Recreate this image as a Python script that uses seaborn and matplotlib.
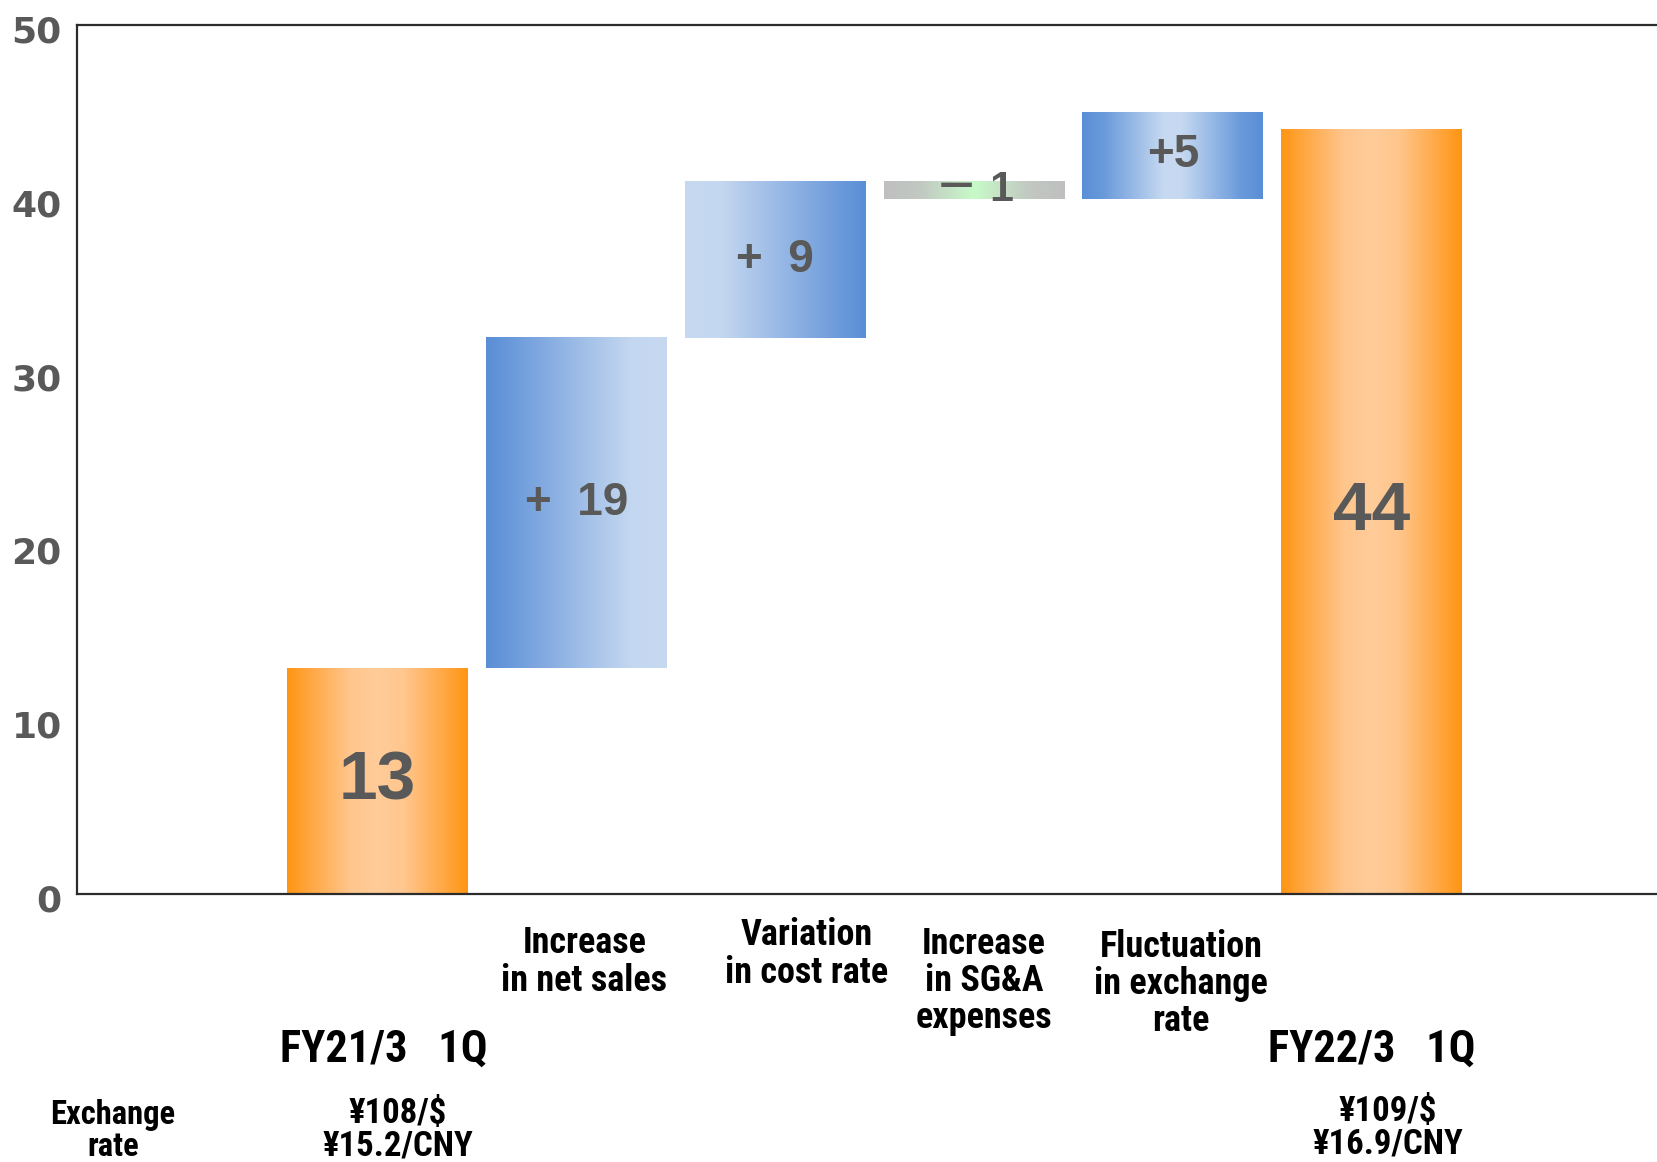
import numpy as np
import pandas as pd
import matplotlib
matplotlib.use("Agg")
import matplotlib.pyplot as plt
import matplotlib.transforms as mtransforms
from matplotlib import font_manager
from matplotlib.font_manager import FontProperties
from matplotlib.colors import LinearSegmentedColormap
import seaborn as sns

# ---- data -------------------------------------------------------------
categories = [
    "FY21/3   1Q",
    "Increase\nin net sales",
    "Variation\nin cost rate",
    "Increase\nin SG&A\nexpenses",
    "Fluctuation\nin exchange\nrate",
    "FY22/3   1Q",
]
start_value = 13
changes = [19, 9, -1, 5]
end_value = 44
value_labels = ["13", "+  19", "+  9", "\uff0d 1", "+5", "44"]
rate_title = "Exchange\nrate"
rates_before = "\u00a5108/$\n\u00a515.2/CNY"
rates_after = "\u00a5109/$\n\u00a516.9/CNY"
y_ticks = [0, 10, 20, 30, 40, 50]

# waterfall geometry from the values
heights = [start_value] + changes + [end_value]
bases = [0]
running = start_value
for c in changes:
    bases.append(running)
    running += c
bases.append(0)

# ---- fonts ------------------------------------------------------------
sns.set_theme(style="white")
plt.rcParams["font.family"] = ["Liberation Sans", "Noto Sans CJK JP", "DejaVu Sans"]


def _weight(w):
    if isinstance(w, (int, float)):
        return int(w)
    return {"bold": 700, "heavy": 800, "black": 900, "semibold": 600,
            "demibold": 600, "extra bold": 800}.get(str(w).lower(), 400)


def condensed_bold_font():
    """Pick a bold condensed face if one is installed."""
    prefs = ["liberation sans narrow", "roboto condensed", "noto sans",
             "open sans", "dejavu sans", "arial narrow"]
    best = None
    for f in font_manager.fontManager.ttflist:
        fn = f.fname.lower()
        nm = f.name.lower()
        narrow = ("narrow" in fn or "condensed" in fn or "narrow" in nm
                  or "condensed" in nm or str(f.stretch).lower() in
                  ("condensed", "semi-condensed", "extra-condensed"))
        if not narrow or "italic" in fn or "oblique" in fn or f.style != "normal":
            continue
        if "extracondensed" in fn.replace("-", "").replace(" ", ""):
            continue
        w = _weight(f.weight)
        if w < 600 or w > 800:
            continue
        rank = next((i for i, p in enumerate(prefs) if nm.startswith(p)), len(prefs))
        score = (rank, abs(w - 700), "semi" in fn)
        if best is None or score < best[0]:
            best = (score, f.fname)
    return best[1] if best else None


cond_path = condensed_bold_font()
if cond_path:
    def label_font(size):
        return FontProperties(fname=cond_path, size=size)
else:
    def label_font(size):
        return FontProperties(family="Liberation Sans", weight="bold", size=size * 0.85)

W, H = 1658, 1162
fig = plt.figure(figsize=(W / 100, H / 100), dpi=100)
ax = fig.add_axes([77 / W, 1 - 894 / H, 1 - 77 / W, (894 - 25) / H])

df = pd.DataFrame({"category": categories, "height": heights})
sns.barplot(data=df, x="category", y="height", order=categories,
            width=0.91, color="#cccccc", ax=ax, zorder=2)


# gradient fills for the bars
def grad(stops):
    return LinearSegmentedColormap.from_list("g", stops)


orange = grad([(0.0, "#FF9512"), (0.12, "#FFA63F"), (0.35, "#FFC68D"),
               (0.5, "#FFCC99"), (0.65, "#FFC68D"), (0.88, "#FFA63F"), (1.0, "#FF9512")])
blue_up = grad([(0.0, "#5A8ED6"), (0.15, "#6C9BDB"), (0.8, "#C4D7F0"), (1.0, "#C6D9F1")])
blue_down = grad([(0.0, "#C6D9F1"), (0.2, "#C4D7F0"), (0.85, "#6C9BDB"), (1.0, "#5A8ED6")])
blue_mid = grad([(0.0, "#5A8ED6"), (0.12, "#6A9ADB"), (0.45, "#C6D9F1"),
                 (0.55, "#C6D9F1"), (0.88, "#6A9ADB"), (1.0, "#5A8ED6")])
gray_green = grad([(0.0, "#BFBFBF"), (0.2, "#C2C8C2"), (0.5, "#C8FAC8"),
                   (0.8, "#C2C8C2"), (1.0, "#BFBFBF")])
bar_cmaps = [orange, blue_up, blue_down, gray_green, blue_mid, orange]

ramp = np.linspace(0, 1, 256).reshape(1, -1)
for patch, base, h, cmap in zip(ax.patches, bases, heights, bar_cmaps):
    patch.set_y(base)
    patch.set_height(h)
    patch.set_facecolor("none")
    patch.set_edgecolor("none")
    x0 = patch.get_x()
    x1 = x0 + patch.get_width()
    y0, y1 = sorted([base, base + h])
    ax.imshow(ramp, cmap=cmap, extent=[x0, x1, y0, y1], aspect="auto",
              interpolation="bilinear", zorder=2)

# value labels inside the bars
value_family = ["Liberation Sans", "Noto Sans CJK JP", "DejaVu Sans"]
value_sizes = [50, 33, 33, 31, 33, 50]
for i, (base, h, txt, fs) in enumerate(zip(bases, heights, value_labels, value_sizes)):
    ax.text(i, base + h / 2, txt, ha="center", va="center", fontsize=fs,
            fontweight="bold", color="#595959", family=value_family, zorder=3)

ax.set_xlim(-1.512, 6.44)
ax.set_ylim(0, 50)
ax.set_yticks(y_ticks)
ax.set_yticklabels([str(t) for t in y_ticks], fontsize=26, fontweight="bold",
                   color="#595959", family=["DejaVu Sans"])
ax.tick_params(axis="y", length=0, pad=11)
shift_down = mtransforms.ScaledTranslation(0, -4 / 100, fig.dpi_scale_trans)
for lab in ax.get_yticklabels():
    lab.set_transform(lab.get_transform() + shift_down)
ax.set_xticks([])
ax.set_xlabel("")
ax.set_ylabel("")

for side in ["left", "bottom", "top"]:
    ax.spines[side].set_visible(True)
    ax.spines[side].set_color("#2b2b2b")
    ax.spines[side].set_linewidth(1.6)
ax.spines["right"].set_visible(False)

# category captions under the axis (x in data units, y in figure fraction)
blend = mtransforms.blended_transform_factory(ax.transData, fig.transFigure)
cap_dx = [0.03, 0.04, 0.16, 0.05, 0.04, 0.0]
cap_py = [1050, 962, 954, 981, 984, 1050]
cap_fs = [32, 26, 26, 26, 26, 32]
for i, (txt, dx, py, fs) in enumerate(zip(categories, cap_dx, cap_py, cap_fs)):
    ax.text(i + dx, 1 - py / H, txt, transform=blend, ha="center", va="center",
            fontproperties=label_font(fs), color="black",
            linespacing=1.05, clip_on=False)

fig.text(113 / W, 1 - 1131 / H, rate_title, ha="center", va="center",
         fontproperties=label_font(23.5), color="black", linespacing=1.0)
ax.text(0.1, 1 - 1130 / H, rates_before, transform=blend, ha="center", va="center",
        fontproperties=label_font(25), color="black", linespacing=1.0, clip_on=False)
ax.text(5.08, 1 - 1128 / H, rates_after, transform=blend, ha="center", va="center",
        fontproperties=label_font(25), color="black", linespacing=1.0, clip_on=False)

fig.savefig("out.png", dpi=100, facecolor="white")
